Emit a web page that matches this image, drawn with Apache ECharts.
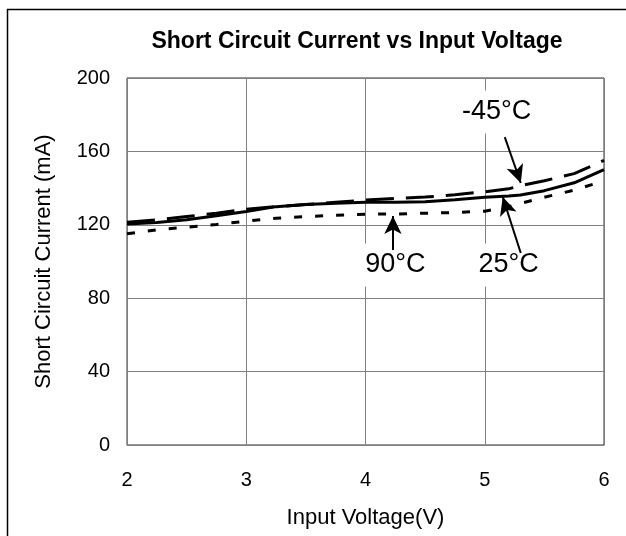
<!DOCTYPE html>
<html>
<head>
<meta charset="utf-8">
<script src="https://cdn.jsdelivr.net/npm/echarts@6/dist/echarts.min.js"></script>
<style>
html,body{margin:0;padding:0;background:#fff;}
#chart{width:626px;height:536px;}
</style>
</head>
<body>
<div id="chart"></div>
<script>
const voltage   = [2, 2.25, 2.5, 2.75, 3, 3.25, 3.5, 3.75, 4, 4.25, 4.5, 4.75, 5, 5.2, 5.3, 5.5, 5.75, 6];
const cur25     = [120.4, 121.3, 122.7, 124.9, 127.2, 129.9, 131.0, 131.7, 132.3, 132.3, 132.6, 133.7, 135.0, 135.7, 136.2, 138.6, 142.9, 150.1];
const curM45    = [121.4, 122.7, 124.5, 126.3, 128.5, 129.9, 131.0, 132.3, 133.5, 134.4, 135.1, 136.4, 138.0, 139.6, 141.3, 144.0, 147.9, 155.1];
const cur90     = [115.1, 117.3, 118.7, 120.2, 122.0, 123.6, 124.5, 125.2, 125.8, 125.9, 126.3, 126.7, 127.4, 129.9, 131.7, 135.0, 138.9, 144.0];
const xTicks    = [2, 3, 4, 5, 6];
const yTicks    = [0, 40, 80, 120, 160, 200];
const labelM45  = ['-45°C', 5.10, 181.5];
const label90   = ['90°C', 4.25, 98.1];
const label25   = ['25°C', 5.20, 98.1];
const arrowM45  = [[5.168, 167.8], [5.302, 142.8]];
const arrow90   = [[4.23, 106.3], [4.23, 124.8]];
const arrow25   = [[5.302, 104.6], [5.151, 135.1]];

const FONT = "'Liberation Sans', Arial, sans-serif";
const pair = (xs, ys) => xs.map((x, i) => [x, ys[i]]);

const chart = echarts.init(document.getElementById('chart'), null, {renderer: 'canvas'});

function textPoint(l) {
  return {
    coord: [l[1], l[2]],
    symbol: 'rect', symbolSize: 0,
    label: {
      show: true, position: 'inside', formatter: l[0],
      color: '#000', fontSize: 27, fontFamily: FONT,
      backgroundColor: '#fff', padding: [8, 3]
    }
  };
}
function arrowLine(a) {
  return [{coord: a[0]}, {coord: a[1]}];
}

chart.setOption({
  animation: false,
  backgroundColor: '#fff',
  title: {
    text: 'Short Circuit Current vs Input Voltage',
    left: 352, top: 25, textAlign: 'center',
    textStyle: {fontFamily: FONT, fontWeight: 'bold', fontSize: 23, color: '#000'}
  },
  graphic: [{
    type: 'rect', silent: true,
    shape: {x: 7.5, y: 9.5, width: 800, height: 800},
    style: {fill: 'none', stroke: '#000', lineWidth: 1.5}
  }],
  grid: {
    left: 127, right: 22, top: 78, bottom: 91,
    show: true, borderColor: '#333', borderWidth: 1
  },
  xAxis: {
    type: 'value', min: 2, max: 6, interval: 1,
    name: 'Input Voltage(V)', nameLocation: 'middle', nameGap: 62,
    nameTextStyle: {fontFamily: FONT, fontSize: 22, color: '#000'},
    axisLine: {show: true, onZero: false, lineStyle: {color: '#808080', width: 1}},
    axisTick: {show: false},
    axisLabel: {fontFamily: FONT, fontSize: 20, color: '#000', margin: 25,
      formatter: v => xTicks.includes(v) ? String(v) : ''},
    splitLine: {show: true, lineStyle: {color: '#808080', width: 1}}
  },
  yAxis: {
    type: 'value', min: 0, max: 200, interval: 40,
    name: 'Short Circuit Current (mA)', nameLocation: 'middle', nameGap: 72,
    nameTextStyle: {fontFamily: FONT, fontSize: 22, color: '#000'},
    axisLine: {show: true, lineStyle: {color: '#808080', width: 1}},
    axisTick: {show: false},
    axisLabel: {fontFamily: FONT, fontSize: 20, color: '#000', margin: 17,
      formatter: v => yTicks.includes(v) ? String(v) : ''},
    splitLine: {show: true, lineStyle: {color: '#808080', width: 1}}
  },
  series: [
    {
      name: '90°C', type: 'line', data: pair(voltage, cur90),
      showSymbol: false, symbol: 'none', z: 3,
      lineStyle: {color: '#000', width: 3, type: [8, 13]}
    },
    {
      name: '-45°C', type: 'line', data: pair(voltage, curM45),
      showSymbol: false, symbol: 'none', z: 3,
      lineStyle: {color: '#000', width: 3, type: [28, 12]}
    },
    {
      name: '25°C', type: 'line', data: pair(voltage, cur25),
      showSymbol: false, symbol: 'none', z: 4,
      lineStyle: {color: '#000', width: 3, type: 'solid'},
      markPoint: {
        silent: true, z: 5,
        data: [textPoint(labelM45), textPoint(label90), textPoint(label25)]
      },
      markLine: {
        silent: true, z: 6, animation: false,
        symbol: ['none', 'arrow'], symbolSize: [13, 18],
        label: {show: false},
        lineStyle: {color: '#000', width: 2, type: 'solid'},
        data: [arrowLine(arrowM45), arrowLine(arrow90), arrowLine(arrow25)]
      }
    }
  ]
});
</script>
</body>
</html>
